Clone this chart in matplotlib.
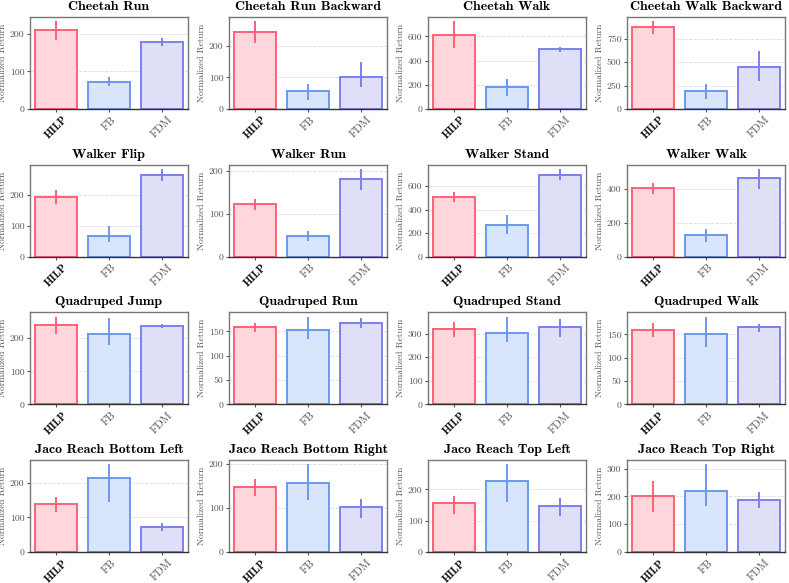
import numpy as np
import matplotlib
matplotlib.use("Agg")
import matplotlib.pyplot as plt

plt.rcParams['font.family'] = ['cmr10', 'DejaVu Serif']
plt.rcParams['axes.unicode_minus'] = False
plt.rcParams['mathtext.fontset'] = 'cm'

methods = ['HILP', 'FB', 'FDM']
tasks = ['Cheetah Run', 'Cheetah Run Backward', 'Cheetah Walk', 'Cheetah Walk Backward',
         'Walker Flip', 'Walker Run', 'Walker Stand', 'Walker Walk',
         'Quadruped Jump', 'Quadruped Run', 'Quadruped Stand', 'Quadruped Walk',
         'Jaco Reach Bottom Left', 'Jaco Reach Bottom Right', 'Jaco Reach Top Left', 'Jaco Reach Top Right']

# mean per task, order HILP, FB, FDM
means = [
    [210, 72, 177], [243, 57, 100], [615, 185, 495], [875, 190, 445],
    [195, 68, 265], [123, 48, 181], [510, 265, 695], [405, 125, 460],
    [240, 212, 237], [159, 152, 168], [320, 303, 330], [160, 152, 165],
    [138, 212, 72], [146, 155, 103], [157, 227, 147], [203, 221, 186],
]
# lower / upper ends of the error bars
lows = [
    [183, 60, 168], [208, 27, 70], [500, 110, 475], [800, 110, 300],
    [172, 47, 245], [110, 37, 155], [465, 190, 650], [370, 85, 400],
    [213, 180, 230], [148, 134, 157], [285, 265, 285], [145, 123, 155],
    [115, 145, 62], [127, 118, 76], [122, 160, 115], [145, 165, 157],
]
highs = [
    [233, 85, 188], [278, 80, 150], [725, 245, 510], [935, 265, 620],
    [218, 100, 285], [135, 60, 205], [550, 355, 745], [435, 165, 515],
    [265, 262, 243], [167, 180, 177], [350, 372, 362], [174, 188, 173],
    [157, 252, 83], [164, 198, 119], [180, 280, 172], [257, 315, 215],
]

colors = ['#ff6078', '#6a98f0', '#7c80ee']
faces = ['#ffd6dc', '#d9e5fa', '#dfe0f8']

fig, axes = plt.subplots(4, 4, figsize=(7.89, 5.83), dpi=100)

for i, ax in enumerate(axes.flat):
    m = np.array(means[i])
    lo = m - np.array(lows[i])
    hi = np.array(highs[i]) - m
    x = np.arange(len(methods))
    ax.bar(x, m, width=0.8, color=faces, edgecolor=colors, linewidth=1.4, zorder=2)
    for j in range(3):
        ax.errorbar(x[j], m[j], yerr=[[lo[j]], [hi[j]]], fmt='none',
                    ecolor=colors[j], elinewidth=1.4, capsize=0, zorder=3)
    ax.set_title(tasks[i], fontfamily='cmb10', fontsize=10, pad=5)
    ax.set_ylabel('Normalized Return', fontsize=6.8, color='#555555', labelpad=2)
    ax.set_xticks(x)
    ax.set_xticklabels(methods, rotation=45, fontsize=8, color='#555555')
    lbl = ax.get_xticklabels()[0]
    lbl.set_fontfamily('cmb10')
    lbl.set_fontsize(8)
    lbl.set_color('#111111')
    ax.tick_params(axis='y', labelsize=7, colors='#555555', length=2.5, pad=1.5)
    ax.tick_params(axis='x', length=2.5, color='#555555', pad=1.5)
    ax.grid(axis='y', color='#dddddd', linestyle='--', linewidth=0.6, zorder=0)
    ax.set_axisbelow(True)
    for s in ax.spines.values():
        s.set_color('#777777')
        s.set_linewidth(1.0)
    ax.spines['bottom'].set_color('#333333')
    ax.set_xlim(-0.5, 2.5)

plt.subplots_adjust(left=0.038, right=0.995, top=0.971, bottom=0.053, wspace=0.26, hspace=0.605)
plt.savefig('out.png', dpi=100)
